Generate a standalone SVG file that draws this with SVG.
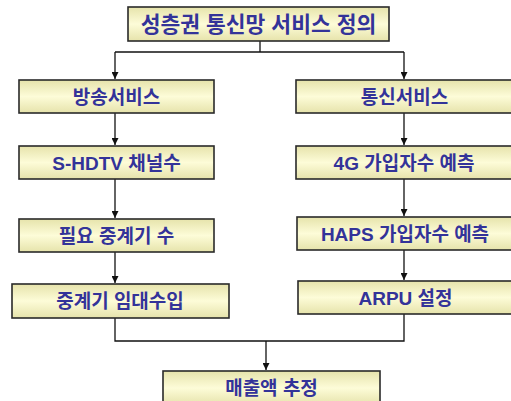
<svg xmlns="http://www.w3.org/2000/svg" width="511" height="401" viewBox="0 0 511 401">
<style>
.box{fill:url(#g);stroke:#2a2a2a;stroke-width:1.6}
.t{font-family:"Liberation Sans","Noto Sans CJK KR",sans-serif;font-weight:bold;font-size:19px;fill:#333399;text-anchor:middle}
.title{font-size:21.5px}
.c{fill:none;stroke:#111;stroke-width:1.3}
</style>
<defs>
<linearGradient id="g" x1="0" y1="0" x2="0" y2="1">
<stop offset="0" stop-color="#e6e3ab"/>
<stop offset="0.5" stop-color="#fdfcd8"/>
<stop offset="1" stop-color="#e6e3ab"/>
</linearGradient>
<marker id="a" markerWidth="8" markerHeight="7" refX="7" refY="3.5" orient="auto" markerUnits="userSpaceOnUse">
<path d="M0,0 L7,3.5 L0,7 Z" fill="#111"/>
</marker>
</defs>
<rect width="511" height="401" fill="#fff"/>
<g id="connectors">
<path class="c" d="M260,41 V52"/>
<path class="c" d="M115,52 H404"/>
<path class="c" d="M115,52 V79" marker-end="url(#a)"/>
<path class="c" d="M404,52 V79" marker-end="url(#a)"/>
<path class="c" d="M115,113 V145" marker-end="url(#a)"/>
<path class="c" d="M404,113 V145" marker-end="url(#a)"/>
<path class="c" d="M115,179 V218" marker-end="url(#a)"/>
<path class="c" d="M404,179 V216" marker-end="url(#a)"/>
<path class="c" d="M115,252 V283" marker-end="url(#a)"/>
<path class="c" d="M404,250 V280" marker-end="url(#a)"/>
<path class="c" d="M115,318 V341 H404 V314"/>
<path class="c" d="M266,341 V370" marker-end="url(#a)"/>
</g>
<g id="n0"><rect class="box" x="128" y="7" width="261" height="34"/><text class="t title" x="258.5" y="31.5">성층권 통신망 서비스 정의</text></g>
<g id="n1"><rect class="box" x="19" y="80" width="195" height="33"/><text class="t" x="116.5" y="103.5">방송서비스</text></g>
<g id="n2"><rect class="box" x="19" y="146" width="195" height="33"/><text class="t" x="116.5" y="169.5">S-HDTV 채널수</text></g>
<g id="n3"><rect class="box" x="19" y="219" width="195" height="33"/><text class="t" x="116.5" y="242.5">필요 중계기 수</text></g>
<g id="n4"><rect class="box" x="12" y="284" width="217" height="34"/><text class="t" x="120" y="308">중계기 임대수입</text></g>
<g id="n5"><rect class="box" x="296" y="80" width="218" height="33"/><text class="t" x="404.5" y="103.5">통신서비스</text></g>
<g id="n6"><rect class="box" x="296" y="146" width="218" height="33"/><text class="t" x="404" y="169.5">4G 가입자수 예측</text></g>
<g id="n7"><rect class="box" x="297" y="217" width="218" height="33"/><text class="t" x="405" y="240.5">HAPS 가입자수 예측</text></g>
<g id="n8"><rect class="box" x="298" y="281" width="218" height="33"/><text class="t" x="405.5" y="304.5">ARPU 설정</text></g>
<g id="n9"><rect class="box" x="163" y="371" width="217" height="34"/><text class="t" x="271.5" y="395">매출액 추정</text></g>
</svg>
